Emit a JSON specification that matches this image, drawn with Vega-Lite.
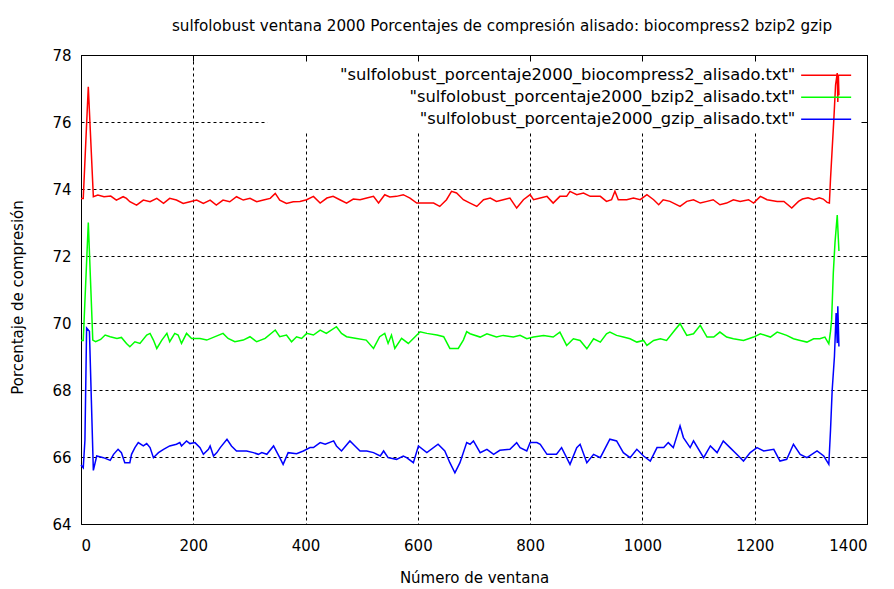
{
  "$schema": "https://vega.github.io/schema/vega-lite/v6.json",
  "width": 786,
  "height": 469,
  "autosize": {"type": "none"},
  "padding": {"left": 81, "top": 55, "right": 27, "bottom": 65},
  "background": "white",
  "config": {
    "font": "DejaVu Sans",
    "view": {"stroke": "#000", "strokeWidth": 1},
    "axis": {"labelColor": "#000", "titleColor": "#000", "labelFontSize": 15, "titleFontSize": 15, "titleFontWeight": "normal", "domainColor": "#000", "tickColor": "#000"}
  },
  "title": {
    "text": "sulfolobust ventana 2000 Porcentajes de compresión alisado: biocompress2 bzip2 gzip",
    "fontSize": 15.2,
    "fontWeight": "normal",
    "color": "#000",
    "anchor": "middle",
    "dx": 28,
    "offset": 14
  },
  "data": {
    "values": [
      {"s":"biocompress2","x":0,"y":73.72},{"s":"biocompress2","x":4,"y":73.72},{"s":"biocompress2","x":13,"y":77.05},{"s":"biocompress2","x":22,"y":73.77},{"s":"biocompress2","x":30,"y":73.82},{"s":"biocompress2","x":41,"y":73.77},{"s":"biocompress2","x":53,"y":73.79},{"s":"biocompress2","x":63,"y":73.67},{"s":"biocompress2","x":75,"y":73.77},{"s":"biocompress2","x":81,"y":73.72},{"s":"biocompress2","x":87,"y":73.62},{"s":"biocompress2","x":99,"y":73.52},{"s":"biocompress2","x":111,"y":73.67},{"s":"biocompress2","x":123,"y":73.62},{"s":"biocompress2","x":135,"y":73.72},{"s":"biocompress2","x":147,"y":73.57},{"s":"biocompress2","x":158,"y":73.72},{"s":"biocompress2","x":170,"y":73.67},{"s":"biocompress2","x":182,"y":73.57},{"s":"biocompress2","x":194,"y":73.62},{"s":"biocompress2","x":206,"y":73.67},{"s":"biocompress2","x":218,"y":73.57},{"s":"biocompress2","x":230,"y":73.67},{"s":"biocompress2","x":241,"y":73.52},{"s":"biocompress2","x":253,"y":73.67},{"s":"biocompress2","x":265,"y":73.62},{"s":"biocompress2","x":277,"y":73.77},{"s":"biocompress2","x":289,"y":73.67},{"s":"biocompress2","x":301,"y":73.72},{"s":"biocompress2","x":313,"y":73.62},{"s":"biocompress2","x":325,"y":73.67},{"s":"biocompress2","x":337,"y":73.72},{"s":"biocompress2","x":346,"y":73.87},{"s":"biocompress2","x":354,"y":73.67},{"s":"biocompress2","x":366,"y":73.57},{"s":"biocompress2","x":378,"y":73.62},{"s":"biocompress2","x":390,"y":73.63},{"s":"biocompress2","x":402,"y":73.68},{"s":"biocompress2","x":414,"y":73.78},{"s":"biocompress2","x":426,"y":73.58},{"s":"biocompress2","x":438,"y":73.73},{"s":"biocompress2","x":449,"y":73.78},{"s":"biocompress2","x":461,"y":73.68},{"s":"biocompress2","x":473,"y":73.58},{"s":"biocompress2","x":485,"y":73.7},{"s":"biocompress2","x":497,"y":73.68},{"s":"biocompress2","x":509,"y":73.73},{"s":"biocompress2","x":521,"y":73.78},{"s":"biocompress2","x":530,"y":73.58},{"s":"biocompress2","x":541,"y":73.83},{"s":"biocompress2","x":550,"y":73.76},{"s":"biocompress2","x":562,"y":73.78},{"s":"biocompress2","x":574,"y":73.83},{"s":"biocompress2","x":586,"y":73.73},{"s":"biocompress2","x":598,"y":73.58},{"s":"biocompress2","x":610,"y":73.58},{"s":"biocompress2","x":628,"y":73.58},{"s":"biocompress2","x":639,"y":73.48},{"s":"biocompress2","x":651,"y":73.68},{"s":"biocompress2","x":660,"y":73.93},{"s":"biocompress2","x":669,"y":73.88},{"s":"biocompress2","x":681,"y":73.68},{"s":"biocompress2","x":693,"y":73.58},{"s":"biocompress2","x":705,"y":73.48},{"s":"biocompress2","x":717,"y":73.68},{"s":"biocompress2","x":729,"y":73.73},{"s":"biocompress2","x":740,"y":73.63},{"s":"biocompress2","x":752,"y":73.68},{"s":"biocompress2","x":764,"y":73.73},{"s":"biocompress2","x":776,"y":73.43},{"s":"biocompress2","x":788,"y":73.68},{"s":"biocompress2","x":800,"y":73.83},{"s":"biocompress2","x":806,"y":73.68},{"s":"biocompress2","x":818,"y":73.73},{"s":"biocompress2","x":830,"y":73.78},{"s":"biocompress2","x":841,"y":73.58},{"s":"biocompress2","x":853,"y":73.78},{"s":"biocompress2","x":865,"y":73.78},{"s":"biocompress2","x":871,"y":73.93},{"s":"biocompress2","x":883,"y":73.83},{"s":"biocompress2","x":895,"y":73.88},{"s":"biocompress2","x":907,"y":73.78},{"s":"biocompress2","x":925,"y":73.78},{"s":"biocompress2","x":936,"y":73.63},{"s":"biocompress2","x":945,"y":73.68},{"s":"biocompress2","x":951,"y":73.93},{"s":"biocompress2","x":957,"y":73.68},{"s":"biocompress2","x":972,"y":73.68},{"s":"biocompress2","x":984,"y":73.73},{"s":"biocompress2","x":996,"y":73.68},{"s":"biocompress2","x":1008,"y":73.83},{"s":"biocompress2","x":1020,"y":73.68},{"s":"biocompress2","x":1029,"y":73.53},{"s":"biocompress2","x":1037,"y":73.68},{"s":"biocompress2","x":1049,"y":73.63},{"s":"biocompress2","x":1067,"y":73.48},{"s":"biocompress2","x":1079,"y":73.63},{"s":"biocompress2","x":1091,"y":73.68},{"s":"biocompress2","x":1103,"y":73.58},{"s":"biocompress2","x":1115,"y":73.63},{"s":"biocompress2","x":1126,"y":73.68},{"s":"biocompress2","x":1138,"y":73.53},{"s":"biocompress2","x":1150,"y":73.58},{"s":"biocompress2","x":1162,"y":73.68},{"s":"biocompress2","x":1174,"y":73.63},{"s":"biocompress2","x":1189,"y":73.68},{"s":"biocompress2","x":1198,"y":73.58},{"s":"biocompress2","x":1210,"y":73.78},{"s":"biocompress2","x":1222,"y":73.68},{"s":"biocompress2","x":1240,"y":73.63},{"s":"biocompress2","x":1252,"y":73.63},{"s":"biocompress2","x":1266,"y":73.43},{"s":"biocompress2","x":1278,"y":73.63},{"s":"biocompress2","x":1285,"y":73.7},{"s":"biocompress2","x":1295,"y":73.74},{"s":"biocompress2","x":1305,"y":73.68},{"s":"biocompress2","x":1315,"y":73.74},{"s":"biocompress2","x":1322,"y":73.7},{"s":"biocompress2","x":1329,"y":73.6},{"s":"biocompress2","x":1333,"y":73.58},{"s":"biocompress2","x":1335,"y":74.3},{"s":"biocompress2","x":1338,"y":75.2},{"s":"biocompress2","x":1341,"y":76.1},{"s":"biocompress2","x":1344,"y":77.1},{"s":"biocompress2","x":1347,"y":77.46},{"s":"biocompress2","x":1348,"y":76.6},{"s":"biocompress2","x":1349,"y":77.4},{"s":"biocompress2","x":1350,"y":76.8},

      {"s":"bzip2","x":0,"y":69.48},{"s":"bzip2","x":4,"y":69.48},{"s":"bzip2","x":13,"y":73.0},{"s":"bzip2","x":21,"y":69.49},{"s":"bzip2","x":26,"y":69.44},{"s":"bzip2","x":35,"y":69.51},{"s":"bzip2","x":43,"y":69.64},{"s":"bzip2","x":52,"y":69.59},{"s":"bzip2","x":64,"y":69.54},{"s":"bzip2","x":72,"y":69.57},{"s":"bzip2","x":81,"y":69.39},{"s":"bzip2","x":87,"y":69.29},{"s":"bzip2","x":96,"y":69.44},{"s":"bzip2","x":105,"y":69.39},{"s":"bzip2","x":117,"y":69.64},{"s":"bzip2","x":123,"y":69.69},{"s":"bzip2","x":129,"y":69.49},{"s":"bzip2","x":135,"y":69.24},{"s":"bzip2","x":144,"y":69.49},{"s":"bzip2","x":153,"y":69.69},{"s":"bzip2","x":158,"y":69.44},{"s":"bzip2","x":167,"y":69.69},{"s":"bzip2","x":173,"y":69.64},{"s":"bzip2","x":179,"y":69.39},{"s":"bzip2","x":188,"y":69.69},{"s":"bzip2","x":197,"y":69.54},{"s":"bzip2","x":212,"y":69.54},{"s":"bzip2","x":224,"y":69.49},{"s":"bzip2","x":253,"y":69.69},{"s":"bzip2","x":262,"y":69.54},{"s":"bzip2","x":274,"y":69.44},{"s":"bzip2","x":289,"y":69.49},{"s":"bzip2","x":301,"y":69.59},{"s":"bzip2","x":313,"y":69.44},{"s":"bzip2","x":328,"y":69.54},{"s":"bzip2","x":346,"y":69.79},{"s":"bzip2","x":354,"y":69.59},{"s":"bzip2","x":366,"y":69.64},{"s":"bzip2","x":375,"y":69.44},{"s":"bzip2","x":384,"y":69.59},{"s":"bzip2","x":393,"y":69.54},{"s":"bzip2","x":402,"y":69.69},{"s":"bzip2","x":414,"y":69.64},{"s":"bzip2","x":426,"y":69.79},{"s":"bzip2","x":437,"y":69.69},{"s":"bzip2","x":455,"y":69.89},{"s":"bzip2","x":464,"y":69.69},{"s":"bzip2","x":473,"y":69.59},{"s":"bzip2","x":491,"y":69.54},{"s":"bzip2","x":508,"y":69.49},{"s":"bzip2","x":521,"y":69.24},{"s":"bzip2","x":532,"y":69.59},{"s":"bzip2","x":541,"y":69.69},{"s":"bzip2","x":547,"y":69.39},{"s":"bzip2","x":553,"y":69.64},{"s":"bzip2","x":559,"y":69.24},{"s":"bzip2","x":571,"y":69.54},{"s":"bzip2","x":583,"y":69.39},{"s":"bzip2","x":604,"y":69.74},{"s":"bzip2","x":616,"y":69.69},{"s":"bzip2","x":634,"y":69.64},{"s":"bzip2","x":646,"y":69.59},{"s":"bzip2","x":657,"y":69.24},{"s":"bzip2","x":672,"y":69.24},{"s":"bzip2","x":681,"y":69.49},{"s":"bzip2","x":687,"y":69.74},{"s":"bzip2","x":693,"y":69.68},{"s":"bzip2","x":711,"y":69.58},{"s":"bzip2","x":723,"y":69.68},{"s":"bzip2","x":740,"y":69.58},{"s":"bzip2","x":752,"y":69.63},{"s":"bzip2","x":770,"y":69.58},{"s":"bzip2","x":782,"y":69.63},{"s":"bzip2","x":794,"y":69.53},{"s":"bzip2","x":806,"y":69.58},{"s":"bzip2","x":824,"y":69.63},{"s":"bzip2","x":841,"y":69.58},{"s":"bzip2","x":853,"y":69.73},{"s":"bzip2","x":865,"y":69.33},{"s":"bzip2","x":877,"y":69.53},{"s":"bzip2","x":889,"y":69.48},{"s":"bzip2","x":901,"y":69.23},{"s":"bzip2","x":913,"y":69.53},{"s":"bzip2","x":925,"y":69.43},{"s":"bzip2","x":936,"y":69.68},{"s":"bzip2","x":942,"y":69.73},{"s":"bzip2","x":954,"y":69.63},{"s":"bzip2","x":966,"y":69.58},{"s":"bzip2","x":978,"y":69.53},{"s":"bzip2","x":990,"y":69.43},{"s":"bzip2","x":1002,"y":69.48},{"s":"bzip2","x":1008,"y":69.33},{"s":"bzip2","x":1020,"y":69.48},{"s":"bzip2","x":1032,"y":69.53},{"s":"bzip2","x":1043,"y":69.48},{"s":"bzip2","x":1055,"y":69.73},{"s":"bzip2","x":1067,"y":69.98},{"s":"bzip2","x":1079,"y":69.63},{"s":"bzip2","x":1091,"y":69.68},{"s":"bzip2","x":1103,"y":69.93},{"s":"bzip2","x":1115,"y":69.58},{"s":"bzip2","x":1127,"y":69.58},{"s":"bzip2","x":1138,"y":69.73},{"s":"bzip2","x":1150,"y":69.58},{"s":"bzip2","x":1162,"y":69.53},{"s":"bzip2","x":1180,"y":69.48},{"s":"bzip2","x":1198,"y":69.58},{"s":"bzip2","x":1210,"y":69.68},{"s":"bzip2","x":1228,"y":69.58},{"s":"bzip2","x":1240,"y":69.73},{"s":"bzip2","x":1257,"y":69.63},{"s":"bzip2","x":1269,"y":69.53},{"s":"bzip2","x":1281,"y":69.48},{"s":"bzip2","x":1293,"y":69.43},{"s":"bzip2","x":1305,"y":69.53},{"s":"bzip2","x":1316,"y":69.53},{"s":"bzip2","x":1325,"y":69.58},{"s":"bzip2","x":1332,"y":69.38},{"s":"bzip2","x":1335,"y":69.75},{"s":"bzip2","x":1337,"y":70.1},{"s":"bzip2","x":1340,"y":71.5},{"s":"bzip2","x":1343,"y":72.4},{"s":"bzip2","x":1347,"y":73.22},{"s":"bzip2","x":1349,"y":72.5},{"s":"bzip2","x":1350,"y":72.15},

      {"s":"gzip","x":0,"y":65.76},{"s":"gzip","x":4,"y":65.68},{"s":"gzip","x":7,"y":66.5},{"s":"gzip","x":10,"y":69.85},{"s":"gzip","x":15,"y":69.75},{"s":"gzip","x":22,"y":65.6},{"s":"gzip","x":28,"y":66.03},{"s":"gzip","x":40,"y":65.98},{"s":"gzip","x":52,"y":65.9},{"s":"gzip","x":58,"y":66.08},{"s":"gzip","x":66,"y":66.23},{"s":"gzip","x":72,"y":66.13},{"s":"gzip","x":78,"y":65.83},{"s":"gzip","x":87,"y":65.83},{"s":"gzip","x":90,"y":66.08},{"s":"gzip","x":96,"y":66.28},{"s":"gzip","x":102,"y":66.43},{"s":"gzip","x":111,"y":66.33},{"s":"gzip","x":117,"y":66.4},{"s":"gzip","x":123,"y":66.28},{"s":"gzip","x":129,"y":65.98},{"s":"gzip","x":138,"y":66.13},{"s":"gzip","x":147,"y":66.23},{"s":"gzip","x":158,"y":66.33},{"s":"gzip","x":170,"y":66.38},{"s":"gzip","x":176,"y":66.43},{"s":"gzip","x":179,"y":66.33},{"s":"gzip","x":188,"y":66.48},{"s":"gzip","x":194,"y":66.4},{"s":"gzip","x":203,"y":66.43},{"s":"gzip","x":212,"y":66.28},{"s":"gzip","x":218,"y":66.08},{"s":"gzip","x":227,"y":66.23},{"s":"gzip","x":230,"y":66.33},{"s":"gzip","x":236,"y":66.03},{"s":"gzip","x":242,"y":66.13},{"s":"gzip","x":248,"y":66.28},{"s":"gzip","x":260,"y":66.53},{"s":"gzip","x":268,"y":66.33},{"s":"gzip","x":277,"y":66.18},{"s":"gzip","x":295,"y":66.18},{"s":"gzip","x":307,"y":66.13},{"s":"gzip","x":316,"y":66.08},{"s":"gzip","x":322,"y":66.13},{"s":"gzip","x":331,"y":66.08},{"s":"gzip","x":343,"y":66.33},{"s":"gzip","x":354,"y":65.98},{"s":"gzip","x":360,"y":65.78},{"s":"gzip","x":369,"y":66.13},{"s":"gzip","x":384,"y":66.1},{"s":"gzip","x":396,"y":66.18},{"s":"gzip","x":408,"y":66.28},{"s":"gzip","x":414,"y":66.28},{"s":"gzip","x":426,"y":66.43},{"s":"gzip","x":435,"y":66.38},{"s":"gzip","x":450,"y":66.48},{"s":"gzip","x":455,"y":66.33},{"s":"gzip","x":464,"y":66.18},{"s":"gzip","x":479,"y":66.48},{"s":"gzip","x":488,"y":66.33},{"s":"gzip","x":497,"y":66.18},{"s":"gzip","x":509,"y":66.18},{"s":"gzip","x":521,"y":66.13},{"s":"gzip","x":533,"y":66.03},{"s":"gzip","x":539,"y":66.18},{"s":"gzip","x":547,"y":65.98},{"s":"gzip","x":562,"y":65.93},{"s":"gzip","x":574,"y":66.03},{"s":"gzip","x":580,"y":65.98},{"s":"gzip","x":592,"y":65.83},{"s":"gzip","x":601,"y":66.33},{"s":"gzip","x":616,"y":66.13},{"s":"gzip","x":636,"y":66.38},{"s":"gzip","x":648,"y":66.18},{"s":"gzip","x":657,"y":65.83},{"s":"gzip","x":666,"y":65.53},{"s":"gzip","x":675,"y":65.83},{"s":"gzip","x":687,"y":66.43},{"s":"gzip","x":693,"y":66.38},{"s":"gzip","x":699,"y":66.48},{"s":"gzip","x":711,"y":66.13},{"s":"gzip","x":723,"y":66.23},{"s":"gzip","x":735,"y":66.08},{"s":"gzip","x":746,"y":66.2},{"s":"gzip","x":764,"y":66.23},{"s":"gzip","x":776,"y":66.43},{"s":"gzip","x":782,"y":66.28},{"s":"gzip","x":794,"y":66.18},{"s":"gzip","x":800,"y":66.43},{"s":"gzip","x":812,"y":66.43},{"s":"gzip","x":818,"y":66.38},{"s":"gzip","x":830,"y":66.08},{"s":"gzip","x":847,"y":66.08},{"s":"gzip","x":856,"y":66.28},{"s":"gzip","x":871,"y":65.78},{"s":"gzip","x":883,"y":66.28},{"s":"gzip","x":889,"y":66.38},{"s":"gzip","x":901,"y":65.83},{"s":"gzip","x":913,"y":66.08},{"s":"gzip","x":925,"y":65.98},{"s":"gzip","x":942,"y":66.53},{"s":"gzip","x":954,"y":66.48},{"s":"gzip","x":966,"y":66.13},{"s":"gzip","x":978,"y":65.98},{"s":"gzip","x":990,"y":66.23},{"s":"gzip","x":1002,"y":66.03},{"s":"gzip","x":1014,"y":65.88},{"s":"gzip","x":1026,"y":66.28},{"s":"gzip","x":1038,"y":66.28},{"s":"gzip","x":1046,"y":66.43},{"s":"gzip","x":1055,"y":66.28},{"s":"gzip","x":1067,"y":66.93},{"s":"gzip","x":1073,"y":66.58},{"s":"gzip","x":1085,"y":66.28},{"s":"gzip","x":1091,"y":66.48},{"s":"gzip","x":1109,"y":65.98},{"s":"gzip","x":1121,"y":66.33},{"s":"gzip","x":1133,"y":66.13},{"s":"gzip","x":1144,"y":66.48},{"s":"gzip","x":1156,"y":66.28},{"s":"gzip","x":1168,"y":66.08},{"s":"gzip","x":1180,"y":65.88},{"s":"gzip","x":1192,"y":66.13},{"s":"gzip","x":1204,"y":66.28},{"s":"gzip","x":1216,"y":66.18},{"s":"gzip","x":1234,"y":66.23},{"s":"gzip","x":1245,"y":65.88},{"s":"gzip","x":1257,"y":65.93},{"s":"gzip","x":1269,"y":66.38},{"s":"gzip","x":1281,"y":66.08},{"s":"gzip","x":1293,"y":65.98},{"s":"gzip","x":1311,"y":66.18},{"s":"gzip","x":1323,"y":66.03},{"s":"gzip","x":1332,"y":65.78},{"s":"gzip","x":1335,"y":66.8},{"s":"gzip","x":1338,"y":68.0},{"s":"gzip","x":1342,"y":69.0},{"s":"gzip","x":1345,"y":70.3},{"s":"gzip","x":1347,"y":69.4},{"s":"gzip","x":1348,"y":70.5},{"s":"gzip","x":1350,"y":69.3}
    ]
  },
  "layer": [
    {
      "mark": {"type": "rect", "fill": "white", "stroke": null},
      "encoding": {
        "x": {
          "datum": 333, "type": "quantitative",
          "scale": {"domain": [0, 1400], "nice": false, "zero": false},
          "axis": {
            "orient": "bottom", "values": [0, 200, 400, 600, 800, 1000, 1200, 1400], "format": "d",
            "title": "Número de ventana", "titlePadding": 17,
            "ticks": false, "labelPadding": 14, "domain": false,
            "grid": true, "gridColor": "#000", "gridDash": [3, 3], "gridOpacity": 1, "gridWidth": 1
          }
        },
        "x2": {"datum": 1400},
        "y": {
          "datum": 75.67, "type": "quantitative",
          "scale": {"domain": [64, 78], "nice": false, "zero": false},
          "axis": {
            "orient": "left", "values": [64, 66, 68, 70, 72, 74, 76, 78],
            "title": "Porcentaje de compresión", "titlePadding": 26, "titleY": 242,
            "ticks": false, "labelPadding": 10, "domain": false,
            "grid": true, "gridColor": "#000", "gridDash": [3, 3], "gridOpacity": 1, "gridWidth": 1
          }
        },
        "y2": {"datum": 78}
      }
    },
    {
      "mark": {"type": "line", "strokeWidth": 1.5, "interpolate": "linear"},
      "encoding": {
        "x": {
          "field": "x", "type": "quantitative",
          "axis": {"orient": "top", "values": [0, 200, 400, 600, 800, 1000, 1200, 1400], "labels": false, "title": null, "ticks": true, "tickSize": -6, "grid": false, "domain": true, "zindex": 1}
        },
        "y": {
          "field": "y", "type": "quantitative",
          "axis": {"orient": "right", "values": [64, 66, 68, 70, 72, 74, 76, 78], "labels": false, "title": null, "ticks": true, "tickSize": -6, "grid": false, "domain": true, "zindex": 1}
        },
        "color": {
          "field": "s", "type": "nominal",
          "scale": {"domain": ["biocompress2", "bzip2", "gzip"], "range": ["#ff0000", "#00ff00", "#0000ff"]},
          "legend": {
            "orient": "none", "legendX": 737, "legendY": 12, "title": null,
            "symbolType": "M-10,0H10", "symbolSize": 25, "symbolStrokeWidth": 1.5, "symbolFillColor": "transparent",
            "labelAlign": "right", "labelOffset": -39, "labelFontSize": 16.3, "labelColor": "#000", "labelLimit": 0,
            "rowPadding": 5, "padding": 0,
            "labelExpr": "'\"sulfolobust_porcentaje2000_' + datum.label + '_alisado.txt\"'"
          }
        },
        "order": {"field": "x", "type": "quantitative"}
      }
    }
  ],
  "resolve": {"axis": {"x": "independent", "y": "independent"}}
}
